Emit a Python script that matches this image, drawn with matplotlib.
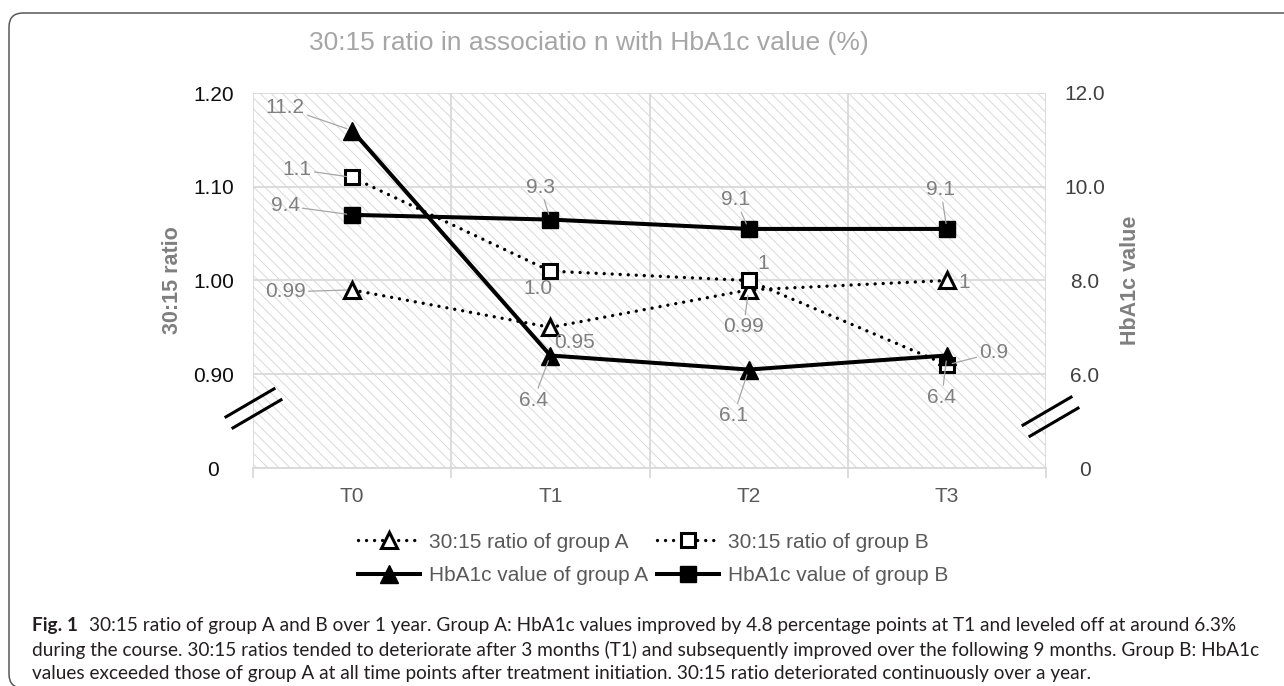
import numpy as np
import matplotlib.pyplot as plt
from matplotlib.patches import Rectangle, FancyBboxPatch
from matplotlib.transforms import IdentityTransform

W, H = 1284, 686

categories = ['T0', 'T1', 'T2', 'T3']
ratio_a = [0.99, 0.95, 0.99, 1.00]
ratio_b = [1.11, 1.01, 1.00, 0.91]
hba1c_a = [11.2, 6.4, 6.1, 6.4]
hba1c_b = [9.4, 9.3, 9.1, 9.1]

# number of decimals shown in each point label
ratio_a_digits = [2, 2, 2, 0]
ratio_b_digits = [1, 1, 0, 1]
hba1c_a_digits = [1, 1, 1, 1]
hba1c_b_digits = [1, 1, 1, 1]

ratio_ticks = [0.8, 0.9, 1.0, 1.1, 1.2]
ratio_ticklabels = ['0', '0.90', '1.00', '1.10', '1.20']
hba1c_ticks = [4, 6, 8, 10, 12]
hba1c_ticklabels = ['0', '6.0', '8.0', '10.0', '12.0']

title = '30:15 ratio in associatio n with HbA1c value (%)'
caption_lines = [
    '30:15 ratio of group A and B over 1 year. Group A: HbA1c values improved by 4.8 percentage points at T1 and leveled off at around 6.3%',
    'during the course. 30:15 ratios tended to deteriorate after 3 months (T1) and subsequently improved over the following 9 months. Group B: HbA1c',
    'values exceeded those of group A at all time points after treatment initiation. 30:15 ratio deteriorated continuously over a year.',
]

plt.rcParams['font.family'] = ['Liberation Sans', 'DejaVu Sans']
plt.rcParams['hatch.linewidth'] = 0.7
plt.rcParams['hatch.color'] = '#d9d9d9'

GRID = '#d9d9d9'

fig = plt.figure(figsize=(W / 100, H / 100), dpi=100)
ax = fig.add_axes([253 / W, 1 - 468 / H, 793 / W, 375 / H])
ax2 = ax.twinx()
ax2.patch.set_visible(False)

x = np.arange(len(categories))

# hatched plot area
ax.add_patch(Rectangle((0, 0), 1, 1, transform=ax.transAxes, facecolor='white',
                       edgecolor=GRID, lw=0, hatch='\\\\\\', zorder=0))

dots = (0, (0.01, 2.4))
la, = ax.plot(x, ratio_a, color='black', lw=2.4, ls=dots, dash_capstyle='round',
              marker='^', ms=12, mfc='white', mec='black', mew=2.2,
              label='30:15 ratio of group A', zorder=3)
lb, = ax.plot(x, ratio_b, color='black', lw=2.4, ls=dots, dash_capstyle='round',
              marker='s', ms=10.5, mfc='white', mec='black', mew=2.2,
              label='30:15 ratio of group B', zorder=3)
ha_, = ax2.plot(x, hba1c_a, color='black', lw=2.9, marker='^', ms=13,
                label='HbA1c value of group A', zorder=3)
hb_, = ax2.plot(x, hba1c_b, color='black', lw=2.9, marker='s', ms=11.5,
                label='HbA1c value of group B', zorder=3)

ax.set_xlim(-0.5, 3.5)
ax.set_ylim(0.8, 1.2)
ax2.set_ylim(4, 12)

ax.set_xticks(x, categories)
ax.set_xticks(np.arange(-0.5, 4, 1), minor=True)
ax.tick_params(axis='x', which='major', length=0, pad=14, labelsize=15, labelcolor='#595959')
ax.tick_params(axis='x', which='minor', length=7, width=1.3, color=GRID)

ax.set_yticks(ratio_ticks, ratio_ticklabels)
ax.tick_params(axis='y', length=0, pad=28.5, labelsize=15, labelcolor='#0d0d0d')
plt.setp(ax.get_yticklabels(), ha='center')
ax2.set_yticks(hba1c_ticks, hba1c_ticklabels)
ax2.tick_params(axis='y', length=0, pad=28, labelsize=15, labelcolor='#404040')
plt.setp(ax2.get_yticklabels(), ha='center')

ax.set_axisbelow(True)
ax.grid(axis='y', color=GRID, lw=1.3)
ax.grid(axis='x', which='minor', color=GRID, lw=1.3)
for s in ['top', 'left', 'right']:
    ax.spines[s].set_visible(False)
ax.spines['bottom'].set_color(GRID)
ax.spines['bottom'].set_linewidth(1.3)
for s in ax2.spines.values():
    s.set_visible(False)

fig.text(173 / W, 1 - 280 / H, '30:15 ratio', rotation=90, ha='center', va='center',
         fontsize=15.5, fontweight='bold', color='#7f7f7f')
fig.text(1131 / W, 1 - 280 / H, 'HbA1c value', rotation=90, ha='center', va='center',
         fontsize=15.5, fontweight='bold', color='#7f7f7f')

# label offsets from the marker in pixels, and whether a leader line is drawn
label_layout = {
    'ratio_a': [(-67, -2, True), (24, -15, False), (-5, -37, True), (17, -2, False)],
    'ratio_b': [(-55, 8, True), (-12, -17, False), (15, 17, False), (47, 12, True)],
    'hba1c_a': [(-67, 23, True), (-17, -45, True), (-15, -46, True), (-5, -42, True)],
    'hba1c_b': [(-67, 9, True), (-10, 32, True), (-13, 29, True), (-6, 39, True)],
}


def point_labels(values, digits, layout, data_ax):
    for i, (v, d, (dx, dy, leader)) in enumerate(zip(values, digits, layout)):
        props = dict(arrowstyle='-', color='#a6a6a6', lw=0.9, shrinkA=0, shrinkB=4) if leader else None
        ax2.annotate(f'{v:.{d}f}', xy=(i, v), xycoords=data_ax.transData,
                     xytext=(dx, dy), textcoords='offset pixels', ha='center', va='center',
                     fontsize=15, color='#7f7f7f', arrowprops=props, zorder=6)


point_labels(ratio_a, ratio_a_digits, label_layout['ratio_a'], ax)
point_labels(ratio_b, ratio_b_digits, label_layout['ratio_b'], ax)
point_labels(hba1c_a, hba1c_a_digits, label_layout['hba1c_a'], ax2)
point_labels(hba1c_b, hba1c_b_digits, label_layout['hba1c_b'], ax2)


def axis_break(xa, ya):
    # two short parallel strokes marking the cut in the axis
    for off in (-1, 1):
        ox, oy = off * 3.5 / 793, -off * 5.5 / 375
        ax.plot([xa - 24 / 793 + ox, xa + 24 / 793 + ox],
                [ya - 14 / 375 + oy, ya + 14 / 375 + oy],
                transform=ax.transAxes, color='black', lw=2.2, clip_on=False, zorder=7)


axis_break(0.0006, 0.159)
axis_break(1.0057, 0.137)

fig.legend([la, ha_, lb, hb_], [la.get_label(), ha_.get_label(), lb.get_label(), hb_.get_label()],
           ncol=2, loc='center', bbox_to_anchor=(653 / W, 1 - 559 / H), frameon=False,
           fontsize=15, labelcolor='#595959', handlelength=3.0, handletextpad=0.43,
           columnspacing=0.4, labelspacing=0.7, borderpad=0)

fig.text(589 / W, 1 - 43 / H, title, ha='center', va='center', fontsize=19, color='#a6a6a6')

# figure frame, open to the right and bottom
fig.add_artist(FancyBboxPatch((9, -2), 1400, H - 13 + 2, boxstyle='round,pad=0,rounding_size=14',
                              transform=IdentityTransform(), fill=False, edgecolor='#595959', lw=1.1))

# caption, sized so the first line spans the text width
cap_font = ['Lato', 'DejaVu Sans']
cap_x, cap_right = 32, 1240
cap_y = [625, 650, 673]
fs = 13
renderer = fig.canvas.get_renderer()
for _ in range(2):
    t1 = fig.text(0, 0, 'Fig. 1', fontsize=fs, fontweight='bold', family=cap_font)
    t2 = fig.text(0, 0, caption_lines[0], fontsize=fs, family=cap_font)
    w = t1.get_window_extent(renderer).width + 0.6 * fs * 1.389 + t2.get_window_extent(renderer).width
    t1.remove()
    t2.remove()
    fs *= (cap_right - cap_x) / w

tf = fig.text(cap_x / W, 1 - cap_y[0] / H, 'Fig. 1', fontsize=fs, fontweight='bold',
              family=cap_font, va='center', color='#231f20')
fig_w = tf.get_window_extent(renderer).width + 0.6 * fs * 1.389
fig.text((cap_x + fig_w) / W, 1 - cap_y[0] / H, caption_lines[0], fontsize=fs,
         family=cap_font, va='center', color='#231f20')
for line, y in zip(caption_lines[1:], cap_y[1:]):
    fig.text(cap_x / W, 1 - y / H, line, fontsize=fs, family=cap_font, va='center', color='#231f20')

fig.savefig('out.png', dpi=100)
